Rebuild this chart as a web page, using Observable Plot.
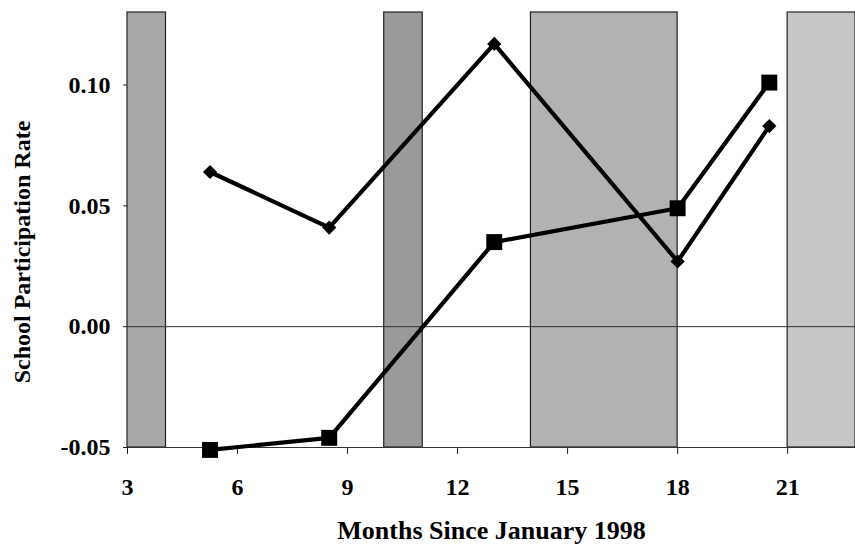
<!DOCTYPE html>
<html>
<head>
<meta charset="utf-8">
<script src="https://cdn.jsdelivr.net/npm/d3@7"></script>
<script src="https://cdn.jsdelivr.net/npm/@observablehq/plot@0.6"></script>
<style>
  html, body { margin: 0; padding: 0; background: #fff; }
  #chart svg { display: block; }
</style>
</head>
<body>
<div id="chart"></div>
<script>
// Survey months (months since January 1998)
const months = [5.25, 8.5, 13, 18, 20.5];
// Series drawn with diamond markers
const diamondValues = [0.064, 0.041, 0.117, 0.027, 0.083];
// Series drawn with square markers
const squareValues = [-0.051, -0.046, 0.035, 0.049, 0.101];
// Shaded periods
const bandStart = [3, 10, 14, 21];
const bandEnd = [4.05, 11.05, 18, 22.85];
const bandFill = ["#a8a8a8", "#9a9a9a", "#b2b2b2", "#c6c6c6"];
// Axis ticks
const xTicks = [3, 6, 9, 12, 15, 18, 21];
const yTicks = [-0.05, 0.00, 0.05, 0.10];

const bands = bandStart.map((s, i) => ({x1: s, x2: bandEnd[i], fill: bandFill[i]}));
const diamonds = months.map((m, i) => ({month: m, value: diamondValues[i]}));
const squares = months.map((m, i) => ({month: m, value: squareValues[i]}));

const font = "'Liberation Serif', 'DejaVu Serif', serif";
const yFormat = d => d3.format(".2f")(d).replace("\u2212", "-");

const chart = Plot.plot({
  width: 855,
  height: 555,
  marginLeft: 127,
  marginRight: 0,
  marginTop: 12,
  marginBottom: 108,
  style: {fontFamily: font, fontSize: "24px", fontWeight: "bold", color: "#000", background: "#fff"},
  x: {domain: [3, 22.85]},
  y: {domain: [-0.05, 0.13]},
  marks: [
    Plot.rectX(bands, {x1: "x1", x2: "x2", y1: -0.05, y2: 0.13, fill: "fill", stroke: "#222", strokeWidth: 1.2}),
    Plot.ruleY([0], {stroke: "#333", strokeWidth: 1}),
    Plot.ruleY([-0.05], {stroke: "#333", strokeWidth: 1.2}),
    Plot.axisX({ticks: xTicks, tickSize: 7, tickPadding: 23, tickFormat: d3.format("d"), label: null, stroke: "#222", fontSize: 24, fontWeight: "bold"}),
    Plot.axisY({ticks: yTicks, tickSize: 4, tickPadding: 13, tickFormat: yFormat, label: null, stroke: "#222", fontSize: 24, fontWeight: "bold"}),
    Plot.line(squares, {x: "month", y: "value", stroke: "#000", strokeWidth: 4.2}),
    Plot.line(diamonds, {x: "month", y: "value", stroke: "#000", strokeWidth: 4.2}),
    Plot.dot(squares, {x: "month", y: "value", symbol: "square", r: 9, fill: "#000"}),
    Plot.dot(diamonds, {x: "month", y: "value", symbol: "diamond2", r: 6.4, fill: "#000"}),
    Plot.text(["Months Since January 1998"], {frameAnchor: "bottom", dy: 91, fontSize: 26, fontWeight: "bold", fill: "#000"}),
    Plot.text(["School Participation Rate"], {frameAnchor: "left", textAnchor: "middle", dx: -105, dy: 22, rotate: -90, fontSize: 24, fontWeight: "bold", fill: "#000"})
  ]
});
document.getElementById("chart").append(chart);
</script>
</body>
</html>
